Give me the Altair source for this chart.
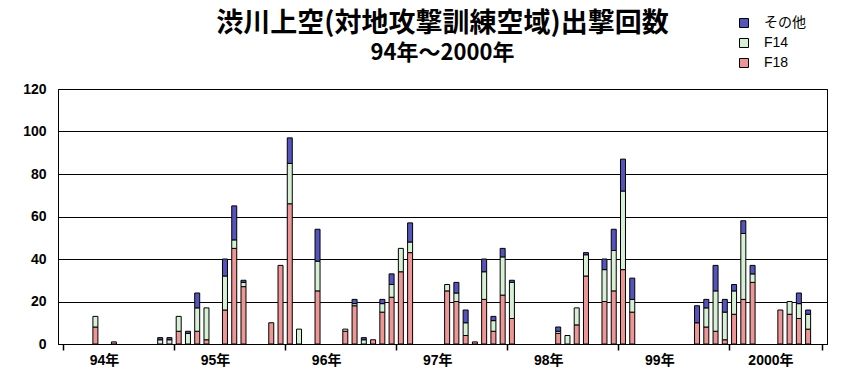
import altair as alt
import pandas as pd

# ---- data ----
YEAR_LABELS = ["94年", "95年", "96年", "97年", "98年", "99年", "2000年"]
SERIES = ["F18", "F14", "その他"]          # stack order, bottom -> top
LEGEND_ORDER = ["その他", "F14", "F18"]

# monthly sorties, Jan 1994 ... Oct 2000 (12 per row)
F18 = [0, 0, 0, 8, 0, 1, 0, 0, 0, 0, 0, 0,
       6, 0, 6, 2, 0, 16, 45, 27, 0, 0, 10, 37,
       66, 0, 0, 25, 0, 0, 6, 18, 0, 2, 15, 22,
       34, 43, 0, 0, 0, 25, 20, 4, 1, 21, 6, 23,
       12, 0, 0, 0, 0, 5, 0, 9, 32, 0, 20, 25,
       35, 15, 0, 0, 0, 0, 0, 0, 10, 8, 6, 2,
       14, 21, 29, 0, 0, 16, 14, 12, 7, 0]
F14 = [0, 0, 0, 5, 0, 0, 0, 0, 0, 0, 2, 2,
       7, 5, 11, 15, 0, 16, 4, 2, 0, 0, 0, 0,
       19, 7, 0, 14, 0, 0, 1, 1, 2, 0, 4, 6,
       11, 5, 0, 0, 0, 3, 4, 6, 0, 13, 5, 18,
       17, 0, 0, 0, 0, 1, 4, 8, 10, 0, 15, 19,
       37, 6, 0, 0, 0, 0, 0, 0, 0, 9, 19, 13,
       11, 31, 4, 0, 0, 0, 6, 7, 7, 0]
OTHER = [0, 0, 0, 0, 0, 0, 0, 0, 0, 0, 1, 1,
         0, 1, 7, 0, 0, 8, 16, 1, 0, 0, 0, 0,
         12, 0, 0, 15, 0, 0, 0, 2, 1, 0, 2, 5,
         0, 9, 0, 0, 0, 0, 5, 6, 0, 6, 2, 4,
         1, 0, 0, 0, 0, 2, 0, 0, 1, 0, 5, 10,
         15, 10, 0, 0, 0, 0, 0, 0, 8, 4, 12, 6,
         3, 6, 4, 0, 0, 0, 0, 5, 2, 0]

N = len(F18)
rows = []
for i in range(N):
    for k, (name, arr) in enumerate(zip(SERIES, [F18, F14, OTHER])):
        if arr[i] > 0:
            rows.append({"m": i, "series": name, "count": arr[i], "order": k})
df = pd.DataFrame(rows)

tick_vals = [-0.5 + 12 * k for k in range(len(YEAR_LABELS))] + [N - 0.5]
label_js = "[" + ",".join("'%s'" % s for s in YEAR_LABELS) + "]"
label_expr = (
    "datum.value < %s ? %s[floor((datum.value + 0.5) / 12)] : ''" % (N - 1, label_js)
)

FONT = "Liberation Sans, Noto Sans CJK JP"
CJK = "Noto Sans CJK JP"

bars = alt.Chart(df).mark_bar(size=5, stroke="black", strokeWidth=1).encode(
    x=alt.X(
        "m:Q",
        title=None,
        scale=alt.Scale(domain=[-0.5, N - 0.5], nice=False, zero=False),
        axis=alt.Axis(
            values=tick_vals,
            labelExpr=label_expr,
            labelOffset=41,
            labelFont=FONT,
            labelFontSize=14,
            labelFontWeight="bold",
            labelColor="black",
            labelPadding=3,
            labelFlush=False,
            labelOverlap=False,
            tickSize=6,
            tickColor="black",
            tickWidth=1.5,
            domainColor="black",
            grid=False,
        ),
    ),
    y=alt.Y(
        "count:Q",
        title=None,
        stack="zero",
        scale=alt.Scale(domain=[0, 120], nice=False),
        axis=alt.Axis(
            values=[0, 20, 40, 60, 80, 100, 120],
            labelFont=FONT,
            labelFontSize=14,
            labelFontWeight="bold",
            labelColor="black",
            labelPadding=12,
            ticks=False,
            domainColor="black",
            grid=True,
            gridColor="black",
            gridWidth=1,
            gridOpacity=1,
        ),
    ),
    color=alt.Color(
        "series:N",
        scale=alt.Scale(domain=LEGEND_ORDER, range=["#5454bb", "#d6f0d6", "#ec9696"]),
        legend=alt.Legend(
            title=None,
            orient="none",
            legendX=679,
            legendY=-73,
            symbolType="square",
            symbolSize=81,
            symbolStrokeColor="black",
            symbolStrokeWidth=1,
            symbolOpacity=1,
            labelFont=FONT,
            labelFontSize=14,
            labelColor="black",
            labelOffset=13,
            rowPadding=6,
            padding=0,
        ),
    ),
    order=alt.Order("order:Q", sort="ascending"),
)

chart = bars.properties(
    width=769,
    height=255,
    autosize=alt.AutoSizeParams(type="none"),
    padding={"left": 50, "top": 81, "right": 30, "bottom": 45},
    title=alt.TitleParams(
        text="渋川上空(対地攻撃訓練空域)出撃回数",
        subtitle="94年～2000年",
        font=CJK,
        fontSize=27,
        fontWeight="bold",
        color="black",
        subtitleFont=CJK,
        subtitleFontSize=22,
        subtitleFontWeight="bold",
        subtitleColor="black",
        subtitlePadding=5,
        anchor="middle",
        offset=-49,
    ),
).configure_view(stroke="black", strokeWidth=1)

chart.save("out.html", embed_options={"renderer": "svg", "actions": False})
